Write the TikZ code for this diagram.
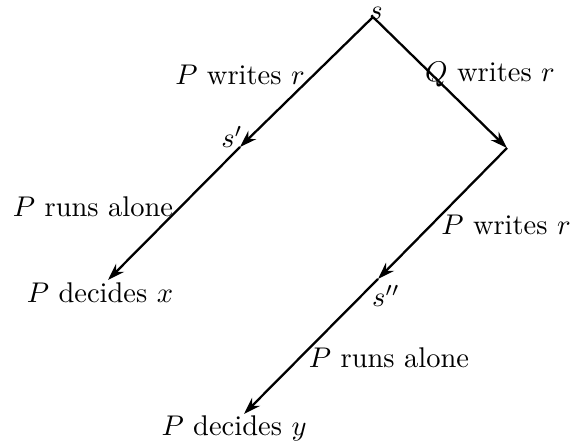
\documentclass[tikz,border=0pt]{standalone}
\usetikzlibrary{arrows.meta}
\begin{document}
\begin{tikzpicture}[x=0.351pt,y=-0.351pt,
  edge/.style={line width=0.8pt,-{Stealth[length=6pt,width=4pt]}},
  lbl/.style={inner sep=0pt}]
\useasboundingbox (0,0) rectangle (570,443);
\coordinate (s) at (373,17);
\coordinate (s1) at (240,147);
\coordinate (x) at (108,280);
\coordinate (r) at (507,148);
\coordinate (s2) at (378,279);
\coordinate (y) at (244,414);
\draw[edge] (s) -- (s1);
\draw[edge] (s1) -- (x);
\draw[edge] (s) -- (r);
\draw[edge] (r) -- (s2);
\draw[edge] (s2) -- (y);
\node[lbl] (ls) at (376,13) {$s$};
\node[lbl] (ls1) at (232,137) {$s'$};
\node[lbl] (ls2) at (386,296) {$s''$};
\node[lbl] (w1) at (240,75) {$P$ writes $r$};
\node[lbl] (w2) at (490,75) {$Q$ writes $r$};
\node[lbl] (w3) at (506,225) {$P$ writes $r$};
\node[lbl] (a1) at (93,207) {$P$ runs alone};
\node[lbl] (a2) at (389,358) {$P$ runs alone};
\node[lbl] (d1) at (100,293) {$P$ decides $x$};
\node[lbl] (d2) at (234,428) {$P$ decides $y$};
\end{tikzpicture}
\end{document}
